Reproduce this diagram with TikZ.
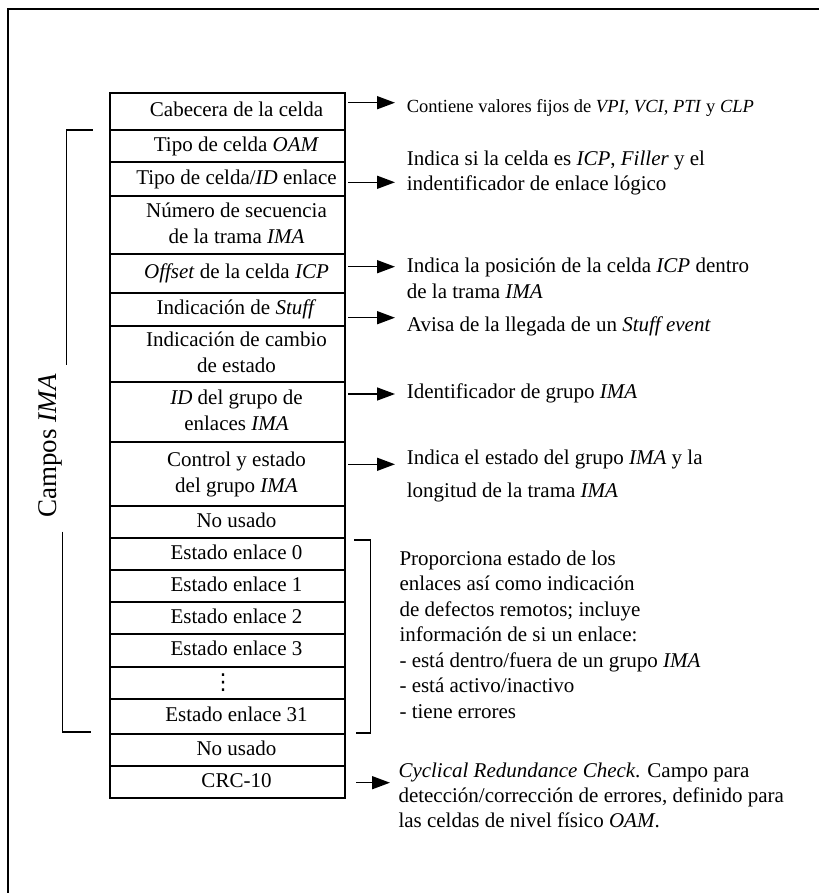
\documentclass[tikz,border=0pt]{standalone}
\usepackage{fontspec}
\setmainfont{Liberation Serif}
\newfontfamily\simbolos{DejaVu Sans}
\usetikzlibrary{positioning,arrows.meta,calc}

\tikzset{
  campo/.style={draw, line width=1.5pt, minimum width=235pt, inner sep=0pt,
    outer sep=0pt, font=\fontsize{21}{26}\selectfont, align=center},
  flecha/.style={line width=1.5pt, -{Triangle[length=18pt,width=13pt]}},
  nota/.style={anchor=base west, inner sep=0pt, align=left,
    font=\fontsize{21}{25.5}\selectfont},
  llave/.style={line width=1.5pt},
}
\newcommand{\celda}[1]{\begin{tabular}{@{\hspace{18pt}}c@{}}#1\end{tabular}}

\begin{document}
\begin{tikzpicture}[x=1pt, y=-1pt]
    \useasboundingbox (0,0) rectangle (819,893);

    % marco exterior
    \draw[line width=2.2pt] (8,893) -- (8,9) -- (819,9);

    % 1. Campos de la celda
    \node[campo, minimum height=37pt] (r1) at (227.5,111.5) {\celda{Cabecera de la celda}};
    \node[campo, minimum height=32pt, below=0pt of r1] (r2) {\celda{Tipo de celda \textit{OAM}}};
    \node[campo, minimum height=34pt, below=0pt of r2] (r3) {\celda{Tipo de celda/\textit{ID} enlace}};
    \node[campo, minimum height=58pt, below=0pt of r3] (r4) {\celda{Número de secuencia\\de la trama \textit{IMA}}};
    \node[campo, minimum height=39pt, below=0pt of r4] (r5) {\celda{\textit{Offset} de la celda \textit{ICP}}};
    \node[campo, minimum height=33pt, below=0pt of r5] (r6) {\celda{Indicación de \textit{Stuff}}};
    \node[campo, minimum height=56pt, below=0pt of r6] (r7) {\celda{Indicación de cambio\\de estado}};
    \node[campo, minimum height=60pt, below=0pt of r7] (r8) {\celda{\textit{ID} del grupo de\\enlaces \textit{IMA}}};
    \node[campo, minimum height=64pt, below=0pt of r8] (r9) {\celda{Control y estado\\del grupo \textit{IMA}}};
    \node[campo, minimum height=32pt, below=0pt of r9] (r10) {\celda{No usado}};
    \node[campo, minimum height=32pt, below=0pt of r10] (r11) {\celda{Estado enlace 0}};
    \node[campo, minimum height=32pt, below=0pt of r11] (r12) {\celda{Estado enlace 1}};
    \node[campo, minimum height=32pt, below=0pt of r12] (r13) {\celda{Estado enlace 2}};
    \node[campo, minimum height=33pt, below=0pt of r13] (r14) {\celda{Estado enlace 3}};
    \node[campo, minimum height=32pt, below=0pt of r14] (r15) {{\simbolos\fontsize{22}{26}\selectfont ⋮}\hspace*{9pt}};
    \node[campo, minimum height=35pt, below=0pt of r15] (r16) {\celda{Estado enlace 31}};
    \node[campo, minimum height=32pt, below=0pt of r16] (r17) {\celda{No usado}};
    \node[campo, minimum height=32pt, below=0pt of r17] (r18) {\celda{CRC-10}};

    % 2. Campos IMA
    \node[rotate=90, font=\fontsize{27}{30}\selectfont] (campos) at (50,446) {Campos \textit{IMA}};
    \draw[llave] (92.7,130) -- (66.7,130) -- (66.7,365);
    \draw[llave] (62.3,531.7) -- (62.3,732) -- (91,732);

    % 3. Descripciones (base = ultima linea)
    \node[nota, font=\fontsize{18.5}{22}\selectfont] (t1) at (406.7,113)
        {Contiene valores fijos de \textit{VPI}, \textit{VCI}, \textit{PTI} y \textit{CLP}};
    \node[nota] (t3) at (406.7,191)
        {Indica si la celda es \textit{ICP}, \textit{Filler} y el\\indentificador de enlace lógico};
    \node[nota] (t5) at (406.7,298.3)
        {Indica la posición de la celda \textit{ICP} dentro\\de la trama \textit{IMA}};
    \node[nota] (t6) at (406.7,331.7) {Avisa de la llegada de un \textit{Stuff event}};
    \node[nota] (t8) at (406.7,398.3) {Identificador de grupo \textit{IMA}};
    \node[nota, font=\fontsize{21}{33}\selectfont] (t9) at (406.7,497.3)
        {Indica el estado del grupo \textit{IMA} y la\\longitud de la trama \textit{IMA}};
    \node[nota] (t11) at (399.3,718)
        {Proporciona estado de los\\enlaces así como indicación\\de defectos remotos; incluye\\información de si un enlace:\\- está dentro/fuera de un grupo \textit{IMA}\\- está activo/inactivo\\- tiene errores};
    \node[nota, font=\fontsize{21}{25}\selectfont] (t18) at (398.3,827.5)
        {\textit{Cyclical Redundance Check}. Campo para\\detección/corrección de errores, definido para\\las celdas de nivel físico \textit{OAM}.};

    % 4. Flechas
    \coordinate (p1) at (395,102.7);
    \coordinate (p3) at (395,182.3);
    \coordinate (p5) at (395,266.7);
    \coordinate (p6) at (395,317.7);
    \coordinate (p8) at (395,394);
    \coordinate (p9) at (395,464.3);
    \coordinate (p18) at (390,782.7);
    \draw[flecha] ($(r1.east |- p1)+(3,0)$) -- (p1);
    \draw[flecha] ($(r3.east |- p3)+(3,0)$) -- (p3);
    \draw[flecha] ($(r5.east |- p5)+(3,0)$) -- (p5);
    \draw[flecha] ($(r6.east |- p6)+(3,0)$) -- (p6);
    \draw[flecha] ($(r8.east |- p8)+(3,0)$) -- (p8);
    \draw[flecha] ($(r9.east |- p9)+(3,0)$) -- (p9);
    \draw[flecha] ($(r18.east |- p18)+(11,0)$) -- (p18);

    % 5. Llave derecha
    \draw[llave] (354,540) -- (370.7,540) -- (370.7,733) -- (356,733);
\end{tikzpicture}
\end{document}
